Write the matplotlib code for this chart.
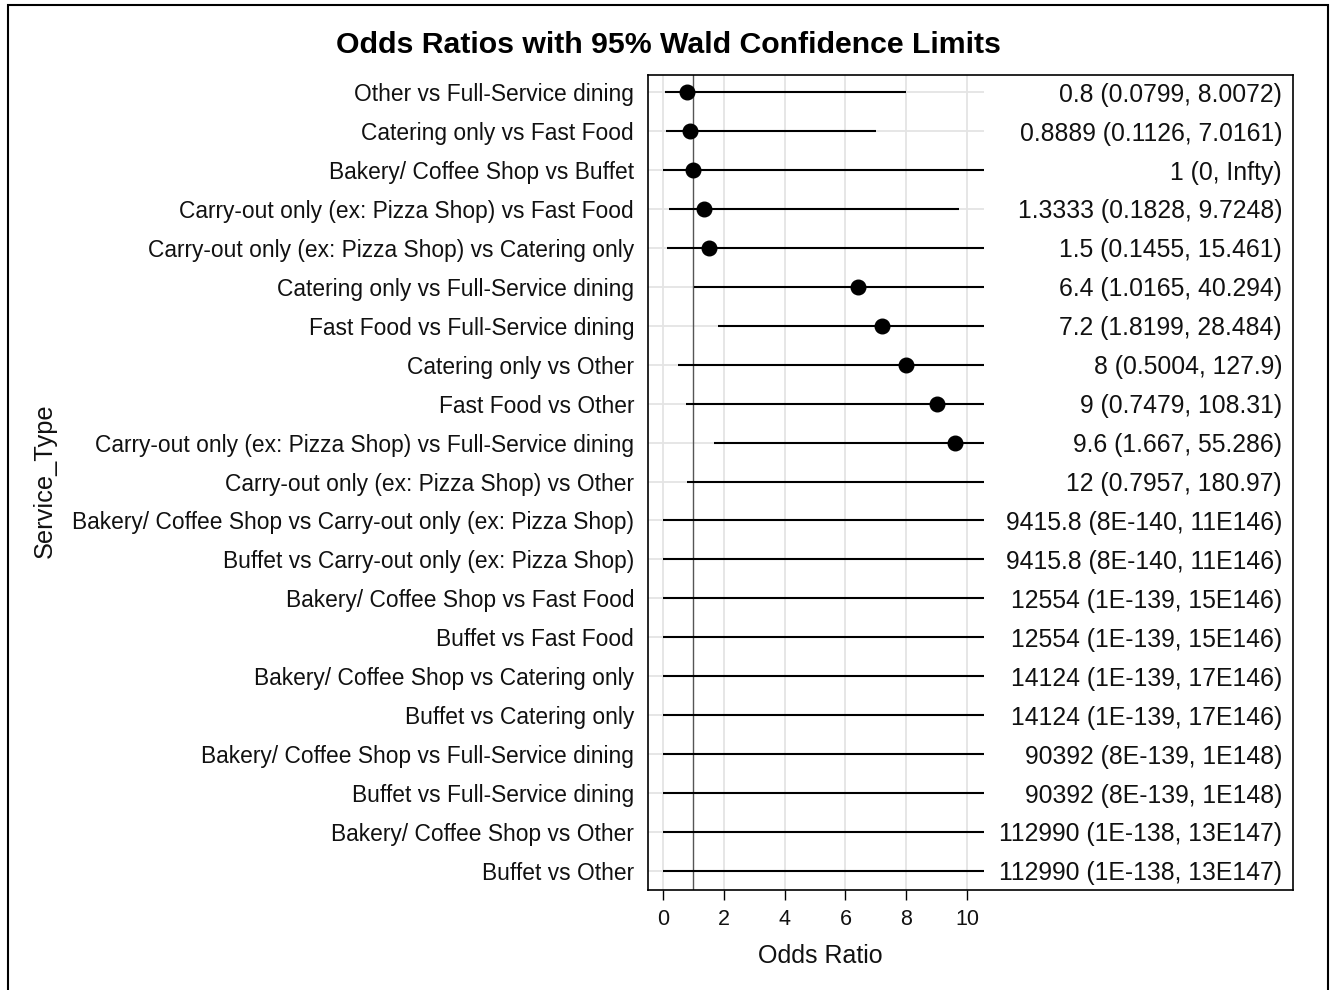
import numpy as np
import matplotlib
matplotlib.use("Agg")
import matplotlib.pyplot as plt
from matplotlib.patches import Rectangle
from matplotlib.transforms import blended_transform_factory

plt.rcParams['font.family'] = ['Liberation Sans', 'DejaVu Sans']

comparisons = [
    "Other vs Full-Service dining",
    "Catering only vs Fast Food",
    "Bakery/ Coffee Shop vs Buffet",
    "Carry-out only (ex: Pizza Shop) vs Fast Food",
    "Carry-out only (ex: Pizza Shop) vs Catering only",
    "Catering only vs Full-Service dining",
    "Fast Food vs Full-Service dining",
    "Catering only vs Other",
    "Fast Food vs Other",
    "Carry-out only (ex: Pizza Shop) vs Full-Service dining",
    "Carry-out only (ex: Pizza Shop) vs Other",
    "Bakery/ Coffee Shop vs Carry-out only (ex: Pizza Shop)",
    "Buffet vs Carry-out only (ex: Pizza Shop)",
    "Bakery/ Coffee Shop vs Fast Food",
    "Buffet vs Fast Food",
    "Bakery/ Coffee Shop vs Catering only",
    "Buffet vs Catering only",
    "Bakery/ Coffee Shop vs Full-Service dining",
    "Buffet vs Full-Service dining",
    "Bakery/ Coffee Shop vs Other",
    "Buffet vs Other",
]
odds_ratio = [0.8, 0.8889, 1, 1.3333, 1.5, 6.4, 7.2, 8, 9, 9.6, 12,
              9415.8, 9415.8, 12554, 12554, 14124, 14124, 90392, 90392, 112990, 112990]
lower_cl = [0.0799, 0.1126, 0, 0.1828, 0.1455, 1.0165, 1.8199, 0.5004, 0.7479, 1.667, 0.7957,
            8e-140, 8e-140, 1e-139, 1e-139, 1e-139, 1e-139, 8e-139, 8e-139, 1e-138, 1e-138]
upper_cl = [8.0072, 7.0161, np.inf, 9.7248, 15.461, 40.294, 28.484, 127.9, 108.31, 55.286, 180.97,
            11e146, 11e146, 15e146, 15e146, 17e146, 17e146, 1e148, 1e148, 13e147, 13e147]
value_labels = [
    "0.8 (0.0799, 8.0072)",
    "0.8889 (0.1126, 7.0161)",
    "1 (0, Infty)",
    "1.3333 (0.1828, 9.7248)",
    "1.5 (0.1455, 15.461)",
    "6.4 (1.0165, 40.294)",
    "7.2 (1.8199, 28.484)",
    "8 (0.5004, 127.9)",
    "9 (0.7479, 108.31)",
    "9.6 (1.667, 55.286)",
    "12 (0.7957, 180.97)",
    "9415.8 (8E-140, 11E146)",
    "9415.8 (8E-140, 11E146)",
    "12554 (1E-139, 15E146)",
    "12554 (1E-139, 15E146)",
    "14124 (1E-139, 17E146)",
    "14124 (1E-139, 17E146)",
    "90392 (8E-139, 1E148)",
    "90392 (8E-139, 1E148)",
    "112990 (1E-138, 13E147)",
    "112990 (1E-138, 13E147)",
]
x_ticks = [0, 2, 4, 6, 8, 10]

W, H = 1335, 990
fig = plt.figure(figsize=(W / 100, H / 100), dpi=100)

# outer border
fig.patches.append(Rectangle((8 / W, -0.05), (1328 - 8) / W, 1 - 5 / H + 0.05,
                             transform=fig.transFigure, fill=False, lw=1.5,
                             edgecolor='black'))

ax_l, ax_r, ax_t, ax_b = 648, 1293, 75, 890
ax = fig.add_axes([ax_l / W, 1 - ax_b / H, (ax_r - ax_l) / W, (ax_b - ax_t) / H])

px_per_unit = (967 - 663) / 10.0
x0 = -(663 - ax_l) / px_per_unit
x1 = (ax_r - 663) / px_per_unit
clip_hi = (984 - 663) / px_per_unit
ax.set_xlim(x0, x1)
n = len(comparisons)
y = np.arange(n)
ax.set_ylim(n - 1 + 0.49, -0.44)

grid_c = '#e4e4e4'
for t in x_ticks:
    ax.axvline(t, color=grid_c, lw=1.3, zorder=1)
ax.hlines(y, x0, clip_hi, color=grid_c, lw=1.3, zorder=1)
ax.axvline(1, color='#555555', lw=1.0, zorder=2)

lo = np.clip(np.array(lower_cl, dtype=float), x0, clip_hi)
hi = np.clip(np.array(upper_cl, dtype=float), x0, clip_hi)
ax.hlines(y, lo, hi, color='black', lw=1.5, zorder=3)
est = np.array(odds_ratio, dtype=float)
vis = est <= clip_hi
ax.plot(est[vis], y[vis], 'o', color='black', ms=10.5, zorder=4)

tr = blended_transform_factory(ax.transAxes, ax.transData)
for yi, s in zip(y, value_labels):
    ax.text(1 - 11 / (ax_r - ax_l), yi, s, transform=tr, ha='right',
            va='center_baseline', fontsize=17.8, color='#111111')

ax.set_yticks(y)
ax.set_yticklabels(comparisons, fontsize=16.4, color='#111111')
ax.tick_params(axis='y', length=0, pad=10)
ax.set_xticks(x_ticks)
ax.set_xticklabels([str(t) for t in x_ticks], fontsize=15.5, color='#111111')
ax.tick_params(axis='x', length=7, width=1, pad=7, direction='out')
for sp in ax.spines.values():
    sp.set_linewidth(1.2)

fig.text(820 / W, 1 - 956 / H, "Odds Ratio", ha='center', va='center', fontsize=18,
         color='#111111')
fig.text(45 / W, 1 - 481 / H, "Service_Type", rotation=90, ha='center', va='center',
         fontsize=18.3, color='#111111')
fig.text(668 / W, 1 - 45 / H, "Odds Ratios with 95% Wald Confidence Limits",
         ha='center', va='center', fontsize=21.8, fontweight='bold')

fig.savefig("out.png", dpi=100)
